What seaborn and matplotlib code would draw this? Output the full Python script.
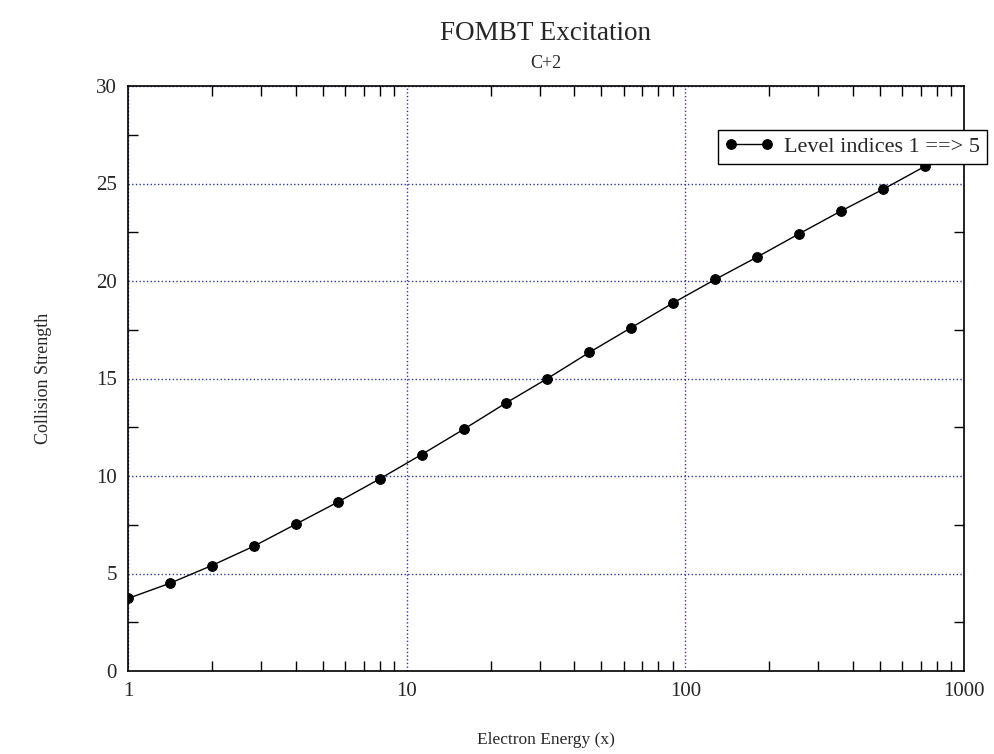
import matplotlib
matplotlib.use("Agg")
import matplotlib.pyplot as plt
from matplotlib.ticker import FixedLocator, MultipleLocator, NullFormatter
import numpy as np
import pandas as pd
import seaborn as sns

sns.set_style("ticks")
plt.rcParams["font.family"] = ["Liberation Serif", "DejaVu Serif"]

# electron energy grid (sqrt(2) steps) and collision strength
energy = [1.0, 1.414, 2.0, 2.828, 4.0, 5.657, 8.0, 11.31, 16.0, 22.63,
          32.0, 45.25, 64.0, 90.51, 128.0, 181.0, 256.0, 362.0, 512.0, 724.1]
strength = [3.72, 4.50, 5.41, 6.40, 7.53, 8.66, 9.85, 11.10, 12.39, 13.73,
            15.00, 16.34, 17.61, 18.88, 20.08, 21.23, 22.42, 23.59, 24.70, 25.88]
series_label = "Level indices 1 ==> 5"

x_major = [1, 10, 100, 1000]
x_labels = ["1", "10", "100", "1000"]
y_major = [0, 5, 10, 15, 20, 25, 30]

df = pd.DataFrame({"energy": energy, "strength": strength})

fig = plt.figure(figsize=(9.95, 7.54), dpi=100)
fig.subplots_adjust(left=128 / 995, right=964 / 995, top=1 - 86 / 754, bottom=1 - 671 / 754)
ax = fig.add_subplot(111)
ax.set_xscale("log")

sns.lineplot(data=df, x="energy", y="strength", ax=ax, color="black", marker="o",
             markersize=7, markeredgecolor="black", linewidth=1, label=series_label)

ax.set_xlim(1, 1000)
ax.set_ylim(0, 30)

# ticks
ax.xaxis.set_major_locator(FixedLocator(x_major))
ax.set_xticklabels(x_labels)
minor_x = [m * d for d in (1, 10, 100) for m in range(2, 10)]
ax.xaxis.set_minor_locator(FixedLocator(minor_x))
ax.xaxis.set_minor_formatter(NullFormatter())
ax.yaxis.set_major_locator(FixedLocator(y_major))
ax.yaxis.set_minor_locator(MultipleLocator(2.5))
ax.tick_params(which="major", length=0, labelsize=15)
ax.tick_params(axis="x", which="major", pad=8)
ax.tick_params(axis="y", which="major", pad=8)
ax.tick_params(which="minor", direction="in", length=7, width=1, color="black",
               top=True, right=True, bottom=True, left=True)

# dotted grid
ax.grid(True, which="major", color="#3030b0", linestyle=":", linewidth=1)

for spine in ax.spines.values():
    spine.set_color("black")
    spine.set_linewidth(1.2)

ax.set_xlabel("Electron Energy (x)", fontsize=12.5, labelpad=22)
ax.set_ylabel("Collision Strength", fontsize=13, labelpad=32)

fig.text(546 / 995, 1 - 33 / 754, "FOMBT Excitation", ha="center", va="center", fontsize=19.5)
fig.text(546 / 995, 1 - 63 / 754, "C+2", ha="center", va="center", fontsize=13)

# legend sticks out past the right spine, like the original
leg = ax.legend(loc="upper right", bbox_to_anchor=(987 / 836 - 128 / 836, 1 - 44 / 585),
                borderaxespad=0, fontsize=16, numpoints=2, handlelength=2.2, frameon=True,
                fancybox=False, borderpad=0.3, handletextpad=0.5)
leg.get_frame().set_edgecolor("black")
leg.get_frame().set_linewidth(1)
leg.get_frame().set_alpha(1)

fig.savefig("out.png", dpi=100)
